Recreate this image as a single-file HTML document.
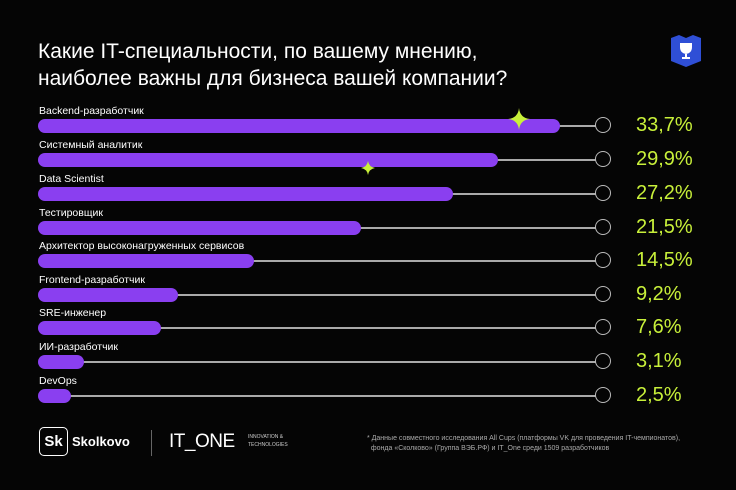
<!DOCTYPE html>
<html><head><meta charset="utf-8"><style>
body{margin:0;width:736px;height:490px;background:#050505;overflow:hidden;font-family:"Liberation Sans","DejaVu Sans",sans-serif;position:relative;color:#fff}
.t{position:absolute;left:38px;top:38px;font-size:21px;line-height:27px;color:#fff}
.row{position:absolute;left:0;width:736px;height:34px}
.lab{position:absolute;left:39px;top:-1px;font-size:10.5px;color:#fff}
.line{position:absolute;left:50px;width:546px;top:19px;height:1.5px;background:#aaa}
.bar{position:absolute;left:38px;top:13px;height:14px;border-radius:7px;background:#8a3ff0}
.c{position:absolute;left:595px;top:11px;width:14px;height:14px;border:1.5px solid #bbb;border-radius:50%;background:#050505}
.p{position:absolute;left:636px;top:8px;font-size:20px;color:#c8f03a}
</style></head><body>
<div class="t">Какие IT-специальности, по вашему мнению,<br>наиболее важны для бизнеса вашей компании?</div>
<svg style="position:absolute;left:671px;top:35px" width="30" height="32"><path d="M0 3 L8 0 L15 3 L22 0 L30 3 V26 L15 32 L0 26Z" fill="#2f4fd6"/><path d="M9 8 H21 V12 Q21 18 15 19 Q9 18 9 12Z M14 19 H16 V22 H19 V24 H11 V22 H14Z" fill="#fff"/></svg>
<div class="row" style="top:106px"><div class="lab">Backend-разработчик</div><div class="line"></div><div class="bar" style="width:522px"></div><div class="c"></div><div class="p">33,7%</div></div>
<div class="row" style="top:140px"><div class="lab">Системный аналитик</div><div class="line"></div><div class="bar" style="width:460px"></div><div class="c"></div><div class="p">29,9%</div></div>
<div class="row" style="top:174px"><div class="lab">Data Scientist</div><div class="line"></div><div class="bar" style="width:415px"></div><div class="c"></div><div class="p">27,2%</div></div>
<div class="row" style="top:208px"><div class="lab">Тестировщик</div><div class="line"></div><div class="bar" style="width:323px"></div><div class="c"></div><div class="p">21,5%</div></div>
<div class="row" style="top:241px"><div class="lab">Архитектор высоконагруженных сервисов</div><div class="line"></div><div class="bar" style="width:216px"></div><div class="c"></div><div class="p">14,5%</div></div>
<div class="row" style="top:275px"><div class="lab">Frontend-разработчик</div><div class="line"></div><div class="bar" style="width:140px"></div><div class="c"></div><div class="p">9,2%</div></div>
<div class="row" style="top:308px"><div class="lab">SRE-инженер</div><div class="line"></div><div class="bar" style="width:123px"></div><div class="c"></div><div class="p">7,6%</div></div>
<div class="row" style="top:342px"><div class="lab">ИИ-разработчик</div><div class="line"></div><div class="bar" style="width:46px"></div><div class="c"></div><div class="p">3,1%</div></div>
<div class="row" style="top:376px"><div class="lab">DevOps</div><div class="line"></div><div class="bar" style="width:33px"></div><div class="c"></div><div class="p">2,5%</div></div>
<svg style="position:absolute;left:508px;top:108px" width="22" height="22"><path d="M11 0 Q12 10 22 11 Q12 12 11 22 Q10 12 0 11 Q10 10 11 0Z" fill="#c8f03a"/></svg>
<svg style="position:absolute;left:361px;top:161px" width="14" height="14"><path d="M7 0 Q8 6 14 7 Q8 8 7 14 Q6 8 0 7 Q6 6 7 0Z" fill="#c8f03a"/></svg>
<div style="position:absolute;left:39px;top:427px;width:27px;height:27px;border:1.5px solid #fff;border-radius:5px;font-weight:bold;font-size:15px;line-height:27px;text-align:center">Sk</div>
<div style="position:absolute;left:72px;top:434px;font-size:13px;font-weight:bold">Skolkovo</div>
<div style="position:absolute;left:151px;top:430px;width:1px;height:26px;background:#666"></div>
<div style="position:absolute;left:169px;top:431px;font-size:19px;letter-spacing:-0.5px">IT_ONE</div>
<div style="position:absolute;left:248px;top:433px;font-size:5px;line-height:8px;color:#ccc">INNOVATION &amp;<br>TECHNOLOGIES</div>
<div style="position:absolute;left:367px;top:434px;font-size:7px;line-height:10px;color:#aaa">* Данные совместного исследования All Cups (платформы VK для проведения IT-чемпионатов),<br>&nbsp; фонда «Сколково» (Группа ВЭБ.РФ) и IT_One среди 1509 разработчиков</div>
</body></html>
